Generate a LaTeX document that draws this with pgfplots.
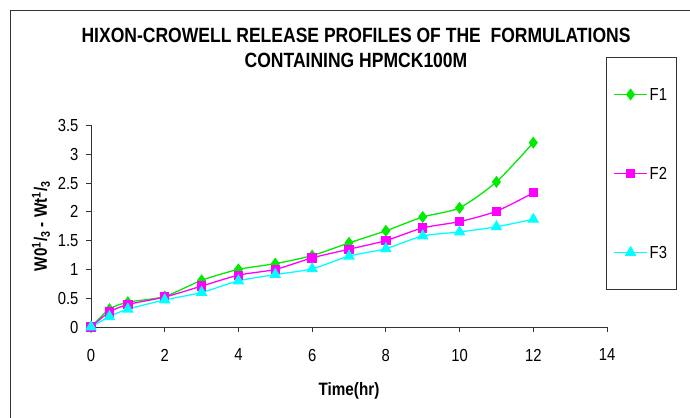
\documentclass[border=0pt]{standalone}
\usepackage{fontspec}
\setmainfont{Liberation Sans}[FakeStretch=0.85]
\usepackage{pgfplots}
\pgfplotsset{compat=1.18}
\definecolor{fone}{RGB}{0,235,0}
\definecolor{ftwo}{RGB}{255,0,255}
\definecolor{fthree}{RGB}{0,255,255}
\begin{document}
\begin{tikzpicture}
\useasboundingbox (0,0) rectangle (690bp,418bp);
\draw[black!80, line width=0.9bp] (10bp,0) -- (10bp,408bp) -- (690bp,408bp);
\begin{axis}[
  at={(91bp,91bp)}, anchor=south west,
  scale only axis, width=516bp, height=201.6bp,
  xmin=0, xmax=14, ymin=0, ymax=3.5,
  xtick={0,2,...,14}, ytick={0,0.5,...,3.5},
  axis lines*=left,
  axis line style={black!80, line width=0.9bp},
  tick style={black!80, line width=0.9bp},
  tick align=outside, major tick length=5bp,
  /pgf/number format/assume math mode=true,
  ticklabel style={font=\fontsize{17.5}{19}\selectfont},
  xticklabel style={anchor=center, yshift=-23bp},
  yticklabel style={anchor=east, xshift=-4bp},
  xlabel={Time(hr)},
  xlabel style={at={(axis description cs:0.5,0)}, anchor=center, yshift=-64bp, font=\bfseries\fontsize{18}{20}\selectfont},
  ylabel={W0\textsuperscript{1}/\textsubscript{3} - Wt\textsuperscript{1}/\textsubscript{3}},
  ylabel style={at={(axis description cs:-0.0969,0.5)}, anchor=center, font=\bfseries\fontsize{18}{20}\selectfont},
  title={HIXON-CROWELL RELEASE PROFILES OF THE\ \ FORMULATIONS\\CONTAINING HPMCK100M},
  title style={at={(axis description cs:0.5136,1.357)}, anchor=center, align=center, font=\bfseries\fontsize{20.7}{25}\selectfont},
  legend style={at={(0.998,1.339)}, anchor=north west, draw=black!80, line width=0.9bp,
    inner xsep=7bp, inner ysep=31bp, row sep=67bp,
    nodes={inner xsep=2bp, inner ysep=0pt, text height=12bp, text depth=0pt},
    font=\fontsize{17.5}{19}\selectfont},
  legend cell align=left,
  legend image code/.code={\draw[mark repeat=2,mark phase=2,#1] plot coordinates {(0bp,0bp)(16.5bp,0bp)(33bp,0bp)};},
  every axis plot/.append style={line width=1.3bp, smooth, tension=0.45},
]
\addplot[fone, mark=diamond*, mark size=5bp, mark options={solid}] coordinates {
(0,0)(0.5,0.31)(1,0.43)(2,0.53)(3,0.81)(4,1.0)(5,1.1)(6,1.24)(7,1.46)(8,1.67)(9,1.91)(10,2.07)(11,2.52)(12,3.2)};
\addplot[ftwo, mark=square*, mark size=4bp] coordinates {
(0,0)(0.5,0.26)(1,0.39)(2,0.52)(3,0.71)(4,0.9)(5,1.0)(6,1.2)(7,1.35)(8,1.5)(9,1.72)(10,1.83)(11,2.01)(12,2.33)};
\addplot[fthree, mark=triangle*, mark size=5.5bp] coordinates {
(0,0)(0.5,0.18)(1,0.31)(2,0.47)(3,0.6)(4,0.8)(5,0.91)(6,1.01)(7,1.23)(8,1.36)(9,1.58)(10,1.65)(11,1.74)(12,1.87)};
\legend{F1,F2,F3}
\end{axis}
\end{tikzpicture}
\end{document}
